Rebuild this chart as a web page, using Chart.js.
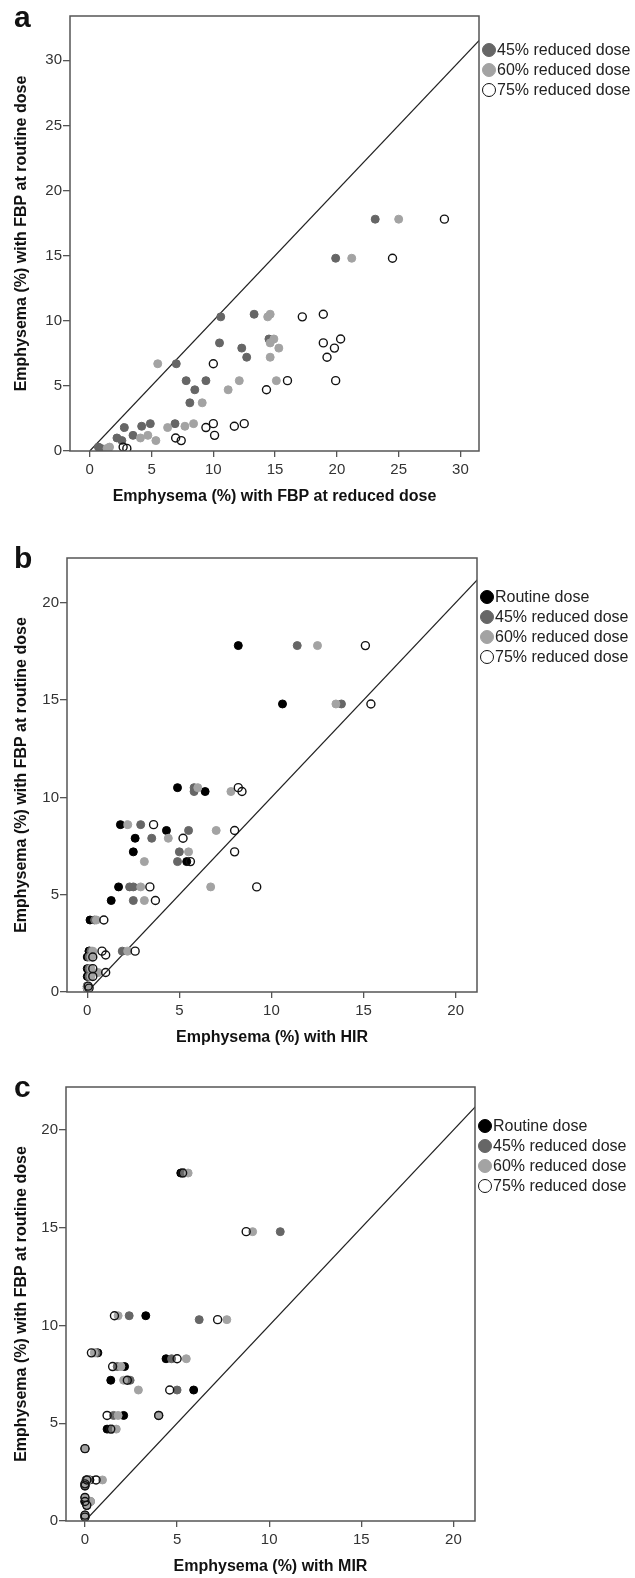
<!DOCTYPE html>
<html>
<head>
<meta charset="utf-8">
<script src="https://cdn.jsdelivr.net/npm/chart.js@4.4.1/dist/chart.umd.min.js"></script>
<style>
  body { margin: 0; background: #fff; }
  #wrap { position: relative; width: 635px; height: 1578px; font-family: "Liberation Sans", Arial, sans-serif; }
  #wrap canvas { position: absolute; left: 0; }
  .letter { position: absolute; left: 14px; font-size: 30px; font-weight: bold; line-height: 1; color: #111; }
  .legend { position: absolute; font-size: 16px; color: #222; }
  .legend .row { display: flex; align-items: center; height: 20px; white-space: nowrap; }
  .legend .dot { width: 14px; height: 14px; border-radius: 50%; box-sizing: border-box; margin-right: 1px; }
</style>
</head>
<body>
<div id="wrap">
  <canvas id="chartA" style="top:0" width="635" height="515"></canvas>
  <canvas id="chartB" style="top:515px" width="635" height="540"></canvas>
  <canvas id="chartC" style="top:1055px" width="635" height="523"></canvas>

  <div class="letter" style="top:1.6px">a</div>
  <div class="letter" style="top:542.6px">b</div>
  <div class="letter" style="top:1071.6px">c</div>

  <div class="legend" id="legendA" style="left:482px;top:40px"></div>
  <div class="legend" id="legendB" style="left:480px;top:587px"></div>
  <div class="legend" id="legendC" style="left:478px;top:1116px"></div>
</div>

<script>
// emphysema (%) with FBP at routine dose, one value per patient (y in every panel)
const fbpRoutine = [17.8, 14.8, 10.5, 10.3, 8.6, 8.3, 7.9, 7.2, 6.7, 5.4, 5.4, 4.7, 3.7, 2.1, 2.1, 1.9, 1.8, 1.2, 1.0, 0.8, 0.3, 0.2];

// panel a: FBP at reduced dose
const fbp45 = [23.1, 19.9, 13.3, 10.6, 14.5, 10.5, 12.3, 12.7, 7.0, 7.8, 9.4, 8.5, 8.1, 4.9, 6.9, 4.2, 2.8, 3.5, 2.2, 2.6, 0.7, 0.9];
const fbp60 = [25.0, 21.2, 14.6, 14.4, 14.9, 14.6, 15.3, 14.6, 5.5, 12.1, 15.1, 11.2, 9.1, 8.4, null, 7.7, 6.3, 4.7, 4.1, 5.35, 1.6, 1.4];
const fbp75 = [28.7, 24.5, 18.9, 17.2, 20.3, 18.9, 19.8, 19.2, 10.0, 16.0, 19.9, 14.3, null, 10.0, 12.5, 11.7, 9.4, 10.1, 6.95, 7.4, 2.7, 3.0];

// panel b: HIR
const hirRoutine = [8.2, 10.6, 4.9, 6.4, 1.8, 4.3, 2.6, 2.5, 5.4, 1.7, null, 1.3, 0.15, 0.1, 0.1, 0.1, 0.0, 0.0, 0.1, 0.0, 0.0, 0.0];
const hir45 = [11.4, 13.8, 5.8, 5.8, 2.9, 5.5, 3.5, 5.0, 4.9, 2.3, 2.5, 2.5, 0.4, 1.9, 0.2, 0.2, 0.1, 0.1, 0.2, 0.1, 0.0, 0.0];
const hir60 = [12.5, 13.5, 6.0, 7.8, 2.2, 7.0, 4.4, 5.5, 3.1, 2.9, 6.7, 3.1, 0.5, 2.2, 0.3, 0.3, 0.2, 0.2, 0.6, 0.2, 0.0, 0.0];
const hir75 = [15.1, 15.4, 8.2, 8.4, 3.6, 8.0, 5.2, 8.0, 5.6, 3.4, 9.2, 3.7, 0.9, 2.6, 0.8, 1.0, 0.3, 0.3, 1.0, 0.3, 0.05, 0.1];

// panel c: MIR
const mirRoutine = [5.2, null, 3.3, null, 0.7, 4.4, 2.15, 1.4, 5.9, 2.1, 4.0, 1.2, 0.0, 0.27, 0.1, 0.0, 0.0, 0.0, 0.0, 0.1, 0.0, 0.0];
const mir45 = [5.4, 10.6, 2.4, 6.2, 0.6, 4.7, 1.75, 2.45, 5.0, 1.55, 4.0, 1.5, 0.0, 0.1, 0.05, 0.0, 0.0, 0.0, 0.3, 0.1, 0.0, 0.0];
const mir60 = [5.6, 9.1, 1.8, 7.7, 0.5, 5.5, 1.95, 2.1, 2.9, 1.8, 4.0, 1.7, 0.0, 0.95, 0.2, 0.0, 0.0, 0.0, 0.3, 0.1, 0.0, 0.0];
const mir75 = [5.3, 8.75, 1.6, 7.2, 0.35, 5.0, 1.5, 2.3, 4.6, 1.2, 4.0, 1.4, 0.0, 0.6, 0.1, 0.0, 0.0, 0.0, 0.0, 0.1, 0.0, 0.0];

const ticksA = [0, 5, 10, 15, 20, 25, 30];
const ticksBC = [0, 5, 10, 15, 20];

const FONT = "'Liberation Sans', Arial, sans-serif";

const styles = {
  "Routine dose": { bg: "#000", border: "#000", width: 1, order: 4 },
  "45% reduced dose": { bg: "#666", border: "#666", width: 1, order: 3 },
  "60% reduced dose": { bg: "#a3a3a3", border: "#a3a3a3", width: 1, order: 2 },
  "75% reduced dose": { bg: "rgba(255,255,255,0)", border: "#111", width: 1.4, order: 1 },
};

function points(xs) {
  return xs
    .map((x, i) => ({ x: x, y: fbpRoutine[i] }))
    .filter((p) => p.x !== null);
}

// full frame round the plot area
const boxPlugin = {
  id: "box",
  afterDraw(chart) {
    const a = chart.chartArea;
    const ctx = chart.ctx;
    ctx.save();
    ctx.strokeStyle = "#555";
    ctx.lineWidth = 1.5;
    ctx.strokeRect(a.left, a.top, a.right - a.left, a.bottom - a.top);
    ctx.restore();
  },
};

function makePanel(id, series, p) {
  const datasets = series.map((s) => {
    const st = styles[s.label];
    return {
      label: s.label,
      data: points(s.values),
      backgroundColor: st.bg,
      borderColor: st.border,
      borderWidth: st.width,
      pointRadius: 4,
      order: st.order,
    };
  });
  // reference line y = x
  datasets.push({
    type: "line",
    label: "identity",
    data: [{ x: 0, y: 0 }, { x: 40, y: 40 }],
    borderColor: "#222",
    borderWidth: 1.2,
    pointRadius: 0,
    fill: false,
    order: 5,
  });

  const tickFont = { family: FONT, size: 15 };
  const titleFont = { family: FONT, size: 16, weight: "bold" };

  new Chart(document.getElementById(id), {
    type: "scatter",
    data: { datasets: datasets },
    options: {
      responsive: false,
      animation: false,
      events: [],
      layout: { padding: { top: p.top, right: p.right, left: 0, bottom: 0 } },
      plugins: { legend: { display: false }, tooltip: { enabled: false } },
      scales: {
        x: {
          type: "linear",
          min: p.xMin,
          max: p.xMax,
          afterBuildTicks: (sc) => (sc.ticks = p.xTicks.map((v) => ({ value: v }))),
          afterFit: (sc) => (sc.height = p.xHeight),
          grid: { drawOnChartArea: false, drawTicks: true, tickLength: 6, color: "#555", lineWidth: 1.3 },
          border: { display: false },
          ticks: { font: tickFont, color: "#333", padding: 4, maxRotation: 0 },
          title: { display: true, text: p.xTitle, font: titleFont, color: "#111", padding: { top: 0, bottom: p.xTitlePad } },
        },
        y: {
          type: "linear",
          min: 0,
          max: p.yMax,
          afterBuildTicks: (sc) => (sc.ticks = p.yTicks.map((v) => ({ value: v }))),
          afterFit: (sc) => (sc.width = p.yWidth),
          grid: { drawOnChartArea: false, drawTicks: true, tickLength: 7, color: "#555", lineWidth: 1.3 },
          border: { display: false },
          ticks: { font: tickFont, color: "#333", padding: 1 },
          title: { display: true, text: "Emphysema (%) with FBP at routine dose", font: titleFont, color: "#111", padding: { top: 12, bottom: 0 } },
        },
      },
    },
    plugins: [boxPlugin],
  });
}

function makeLegend(id, labels) {
  const el = document.getElementById(id);
  labels.forEach((lab) => {
    const st = styles[lab];
    const row = document.createElement("div");
    row.className = "row";
    const dot = document.createElement("span");
    dot.className = "dot";
    dot.style.background = lab === "75% reduced dose" ? "#fff" : st.bg;
    dot.style.border = "1.4px solid " + st.border;
    const txt = document.createElement("span");
    txt.textContent = lab;
    row.appendChild(dot);
    row.appendChild(txt);
    el.appendChild(row);
  });
}

makePanel("chartA", [
  { label: "45% reduced dose", values: fbp45 },
  { label: "60% reduced dose", values: fbp60 },
  { label: "75% reduced dose", values: fbp75 },
], {
  top: 16, right: 156, yWidth: 70, xHeight: 64,
  xMin: -1.6, xMax: 31.5, yMax: 33.4,
  xTicks: ticksA, yTicks: ticksA,
  xTitle: "Emphysema (%) with FBP at reduced dose", xTitlePad: 8.7,
});

makePanel("chartB", [
  { label: "Routine dose", values: hirRoutine },
  { label: "45% reduced dose", values: hir45 },
  { label: "60% reduced dose", values: hir60 },
  { label: "75% reduced dose", values: hir75 },
], {
  top: 43, right: 158, yWidth: 67, xHeight: 63,
  xMin: -1.1, xMax: 21.16, yMax: 22.3,
  xTicks: ticksBC, yTicks: ticksBC,
  xTitle: "Emphysema (%) with HIR", xTitlePad: 7.7,
});

makePanel("chartC", [
  { label: "Routine dose", values: mirRoutine },
  { label: "45% reduced dose", values: mir45 },
  { label: "60% reduced dose", values: mir60 },
  { label: "75% reduced dose", values: mir75 },
], {
  top: 32, right: 160, yWidth: 66, xHeight: 57,
  xMin: -1.03, xMax: 21.17, yMax: 22.2,
  xTicks: ticksBC, yTicks: ticksBC,
  xTitle: "Emphysema (%) with MIR", xTitlePad: 1.4,
});

makeLegend("legendA", ["45% reduced dose", "60% reduced dose", "75% reduced dose"]);
makeLegend("legendB", ["Routine dose", "45% reduced dose", "60% reduced dose", "75% reduced dose"]);
makeLegend("legendC", ["Routine dose", "45% reduced dose", "60% reduced dose", "75% reduced dose"]);
</script>
</body>
</html>
